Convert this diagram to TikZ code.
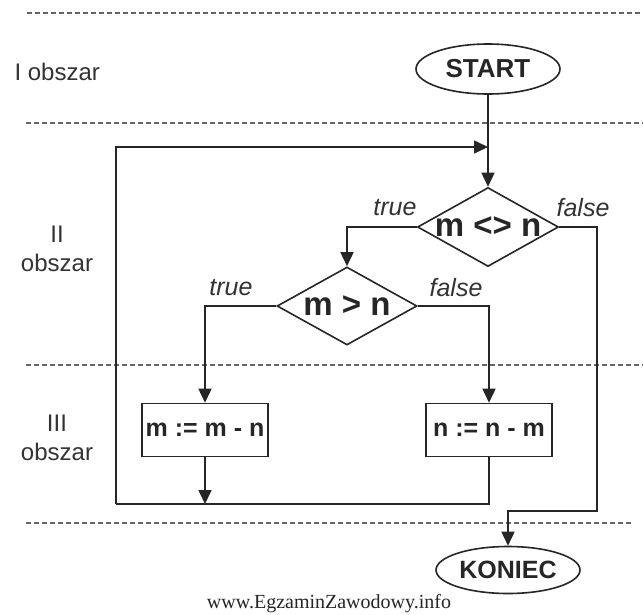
\documentclass[tikz,border=0pt]{standalone}
\usepackage{fontspec}
\setmainfont{Liberation Sans}
\newfontfamily\wmfont{Liberation Serif}
\usetikzlibrary{shapes.geometric,arrows.meta}
\begin{document}
\begin{tikzpicture}[x=1pt,y=-1pt,
  line/.style={line width=1.6pt, draw=black!85},
  arr/.style={line, -{Triangle[length=14pt,width=13pt]}},
  term/.style={ellipse, draw=black!85, line width=1.6pt, minimum width=144pt, minimum height=50pt, inner sep=0pt, text=black!85, font=\fontsize{25}{25}\selectfont\bfseries},
  cond/.style={diamond, draw=black!85, line width=1.6pt, minimum width=141pt, minimum height=79pt, inner sep=0pt},
  condtext/.style={text=black!85, inner sep=0pt, font=\fontsize{33}{33}\selectfont\bfseries},
  proc/.style={rectangle, draw=black!85, line width=1.6pt, minimum width=126pt, minimum height=53pt, inner sep=0pt, text=black!85, font=\fontsize{25}{25}\selectfont\bfseries},
  lbl/.style={text=black!80, font=\fontsize{25}{25}\selectfont\itshape},
  area/.style={text=black!80, align=center, font=\fontsize{24}{29}\selectfont},
  sep/.style={draw=black!60, line width=1.3pt, dash pattern=on 5pt off 3pt}]
\path[use as bounding box, fill=white] (0,0) rectangle (643,614);

% separators
\draw[sep] (27,13) -- (643,13);
\draw[sep] (26,123) -- (643,123);
\draw[sep] (26,365) -- (643,365);
\draw[sep] (26,523) -- (632,523);

% area labels
\node[area, anchor=west] (a1) at (11,72) {I obszar};
\node[area] (a2) at (57,249) {II\\obszar};
\node[area] (a3) at (57,438) {III\\obszar};

% nodes
\node[term, font=\fontsize{26}{26}\selectfont\bfseries] (start) at (488,69) {START};
\node[cond, label={[condtext]center:m <> n}] (d1) at (488,227) {};
\node[cond, minimum height=78pt, minimum width=140pt, label={[condtext]center:m > n}] (d2) at (347,306) {};
\node[proc] (b1) at (205,430) {m := m - n};
\node[proc] (b2) at (489,430) {n := n - m};
\node[term, minimum height=47pt] (koniec) at (508,570) {KONIEC};

% coordinates
\coordinate (jt) at (488,147);
\coordinate (lt) at (116,147);
\coordinate (lb) at (116,504);
\coordinate (jb) at (205,504);
\coordinate (fr) at (597,511);

% connectors
\draw[arr] (start.south) -- (d1.north);
\draw[arr] (d1.west) -| (d2.north);
\draw[arr] (d2.west) -| (b1.north);
\draw[arr] (d2.east) -| (b2.north);
\draw[arr] (b1.south) -- (jb);
\draw[line] (b2.south) |- (lb);
\draw[arr] (lb) -- (lt) -- (jt);
\draw[arr] (d1.east) -| (fr) -| (koniec.north);

% branch labels
\node[lbl] (t1) at (395,208) {true};
\node[lbl] (f1) at (583,208) {false};
\node[lbl] (t2) at (231,288) {true};
\node[lbl] (f2) at (456,288) {false};

% watermark
\node[text=black!85, font=\wmfont\fontsize{20}{20}\selectfont] (wm) at (329,604) {www.EgzaminZawodowy.info};
\end{tikzpicture}
\end{document}
